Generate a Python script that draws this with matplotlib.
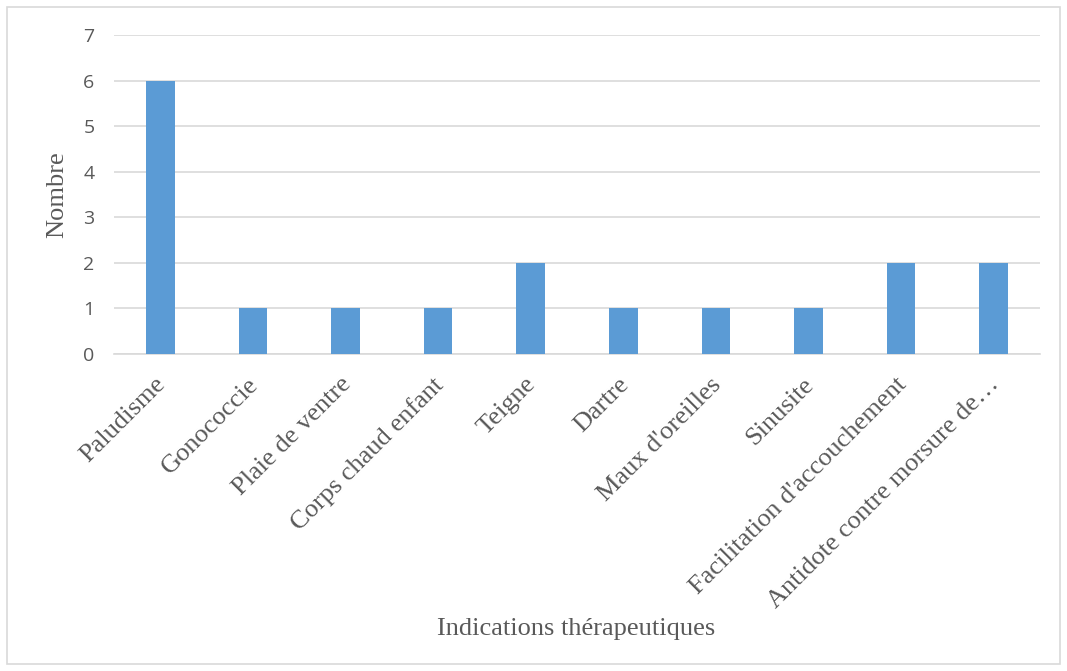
import matplotlib.pyplot as plt
from matplotlib.patches import Rectangle
from matplotlib.transforms import ScaledTranslation

indications = [
    "Paludisme",
    "Gonococcie",
    "Plaie de ventre",
    "Corps chaud enfant",
    "Teigne",
    "Dartre",
    "Maux d'oreilles",
    "Sinusite",
    "Facilitation d'accouchement",
    "Antidote contre morsure de\u2026",
]
nombre = [6, 1, 1, 1, 2, 1, 1, 1, 2, 2]
yTicks = [0, 1, 2, 3, 4, 5, 6, 7]

barColor = "#5b9bd5"
textColor = "#595959"
gridColor = "#d9d9d9"

fig = plt.figure(figsize=(10.67, 6.71), dpi=100)
ax = fig.add_axes([114 / 1067, 1 - 354 / 671, (1040 - 114) / 1067, (354 - 35) / 671])

positions = range(len(indications))
ax.bar(positions, nombre, width=0.31, color=barColor, zorder=3)

ax.set_xlim(-0.5, len(indications) - 0.5)
ax.set_ylim(0, 7)
ax.set_yticks(yTicks)
ax.set_yticklabels([str(t) for t in yTicks], fontsize=14, color=textColor,
                   family=["Open Sans", "DejaVu Sans"])
ax.tick_params(axis="y", length=0, pad=14)
ax.tick_params(axis="x", length=0, pad=14)
ax.yaxis.grid(True, color=gridColor, linewidth=1.2, zorder=0)

ax.set_xticks(list(positions))
ax.set_xticklabels(indications, rotation=45, ha="right", rotation_mode="anchor",
                   fontsize=19, color=textColor, family="Liberation Serif")

# nudge the slanted labels a little to the left
shift = ScaledTranslation(-6 / 100, 0, fig.dpi_scale_trans)
for label in ax.get_xticklabels():
    label.set_transform(label.get_transform() + shift)

for side in ["top", "right", "left"]:
    ax.spines[side].set_visible(False)
ax.spines["bottom"].set_color(gridColor)
ax.spines["bottom"].set_linewidth(1.2)

fig.text(57 / 1067, 1 - 195 / 671, "Nombre", rotation=90, ha="center", va="center",
         fontsize=19, color=textColor, family="Liberation Serif")
fig.text(576 / 1067, 1 - 629 / 671, "Indications thérapeutiques", ha="center", va="center",
         fontsize=19, color=textColor, family="Liberation Serif")

# light frame around the whole chart
fig.patches.append(Rectangle((7 / 1067, 1 - 664 / 671), (1060 - 7) / 1067, (664 - 7) / 671,
                             transform=fig.transFigure, fill=False,
                             edgecolor=gridColor, linewidth=1.2))

fig.savefig("out.png", dpi=100)
